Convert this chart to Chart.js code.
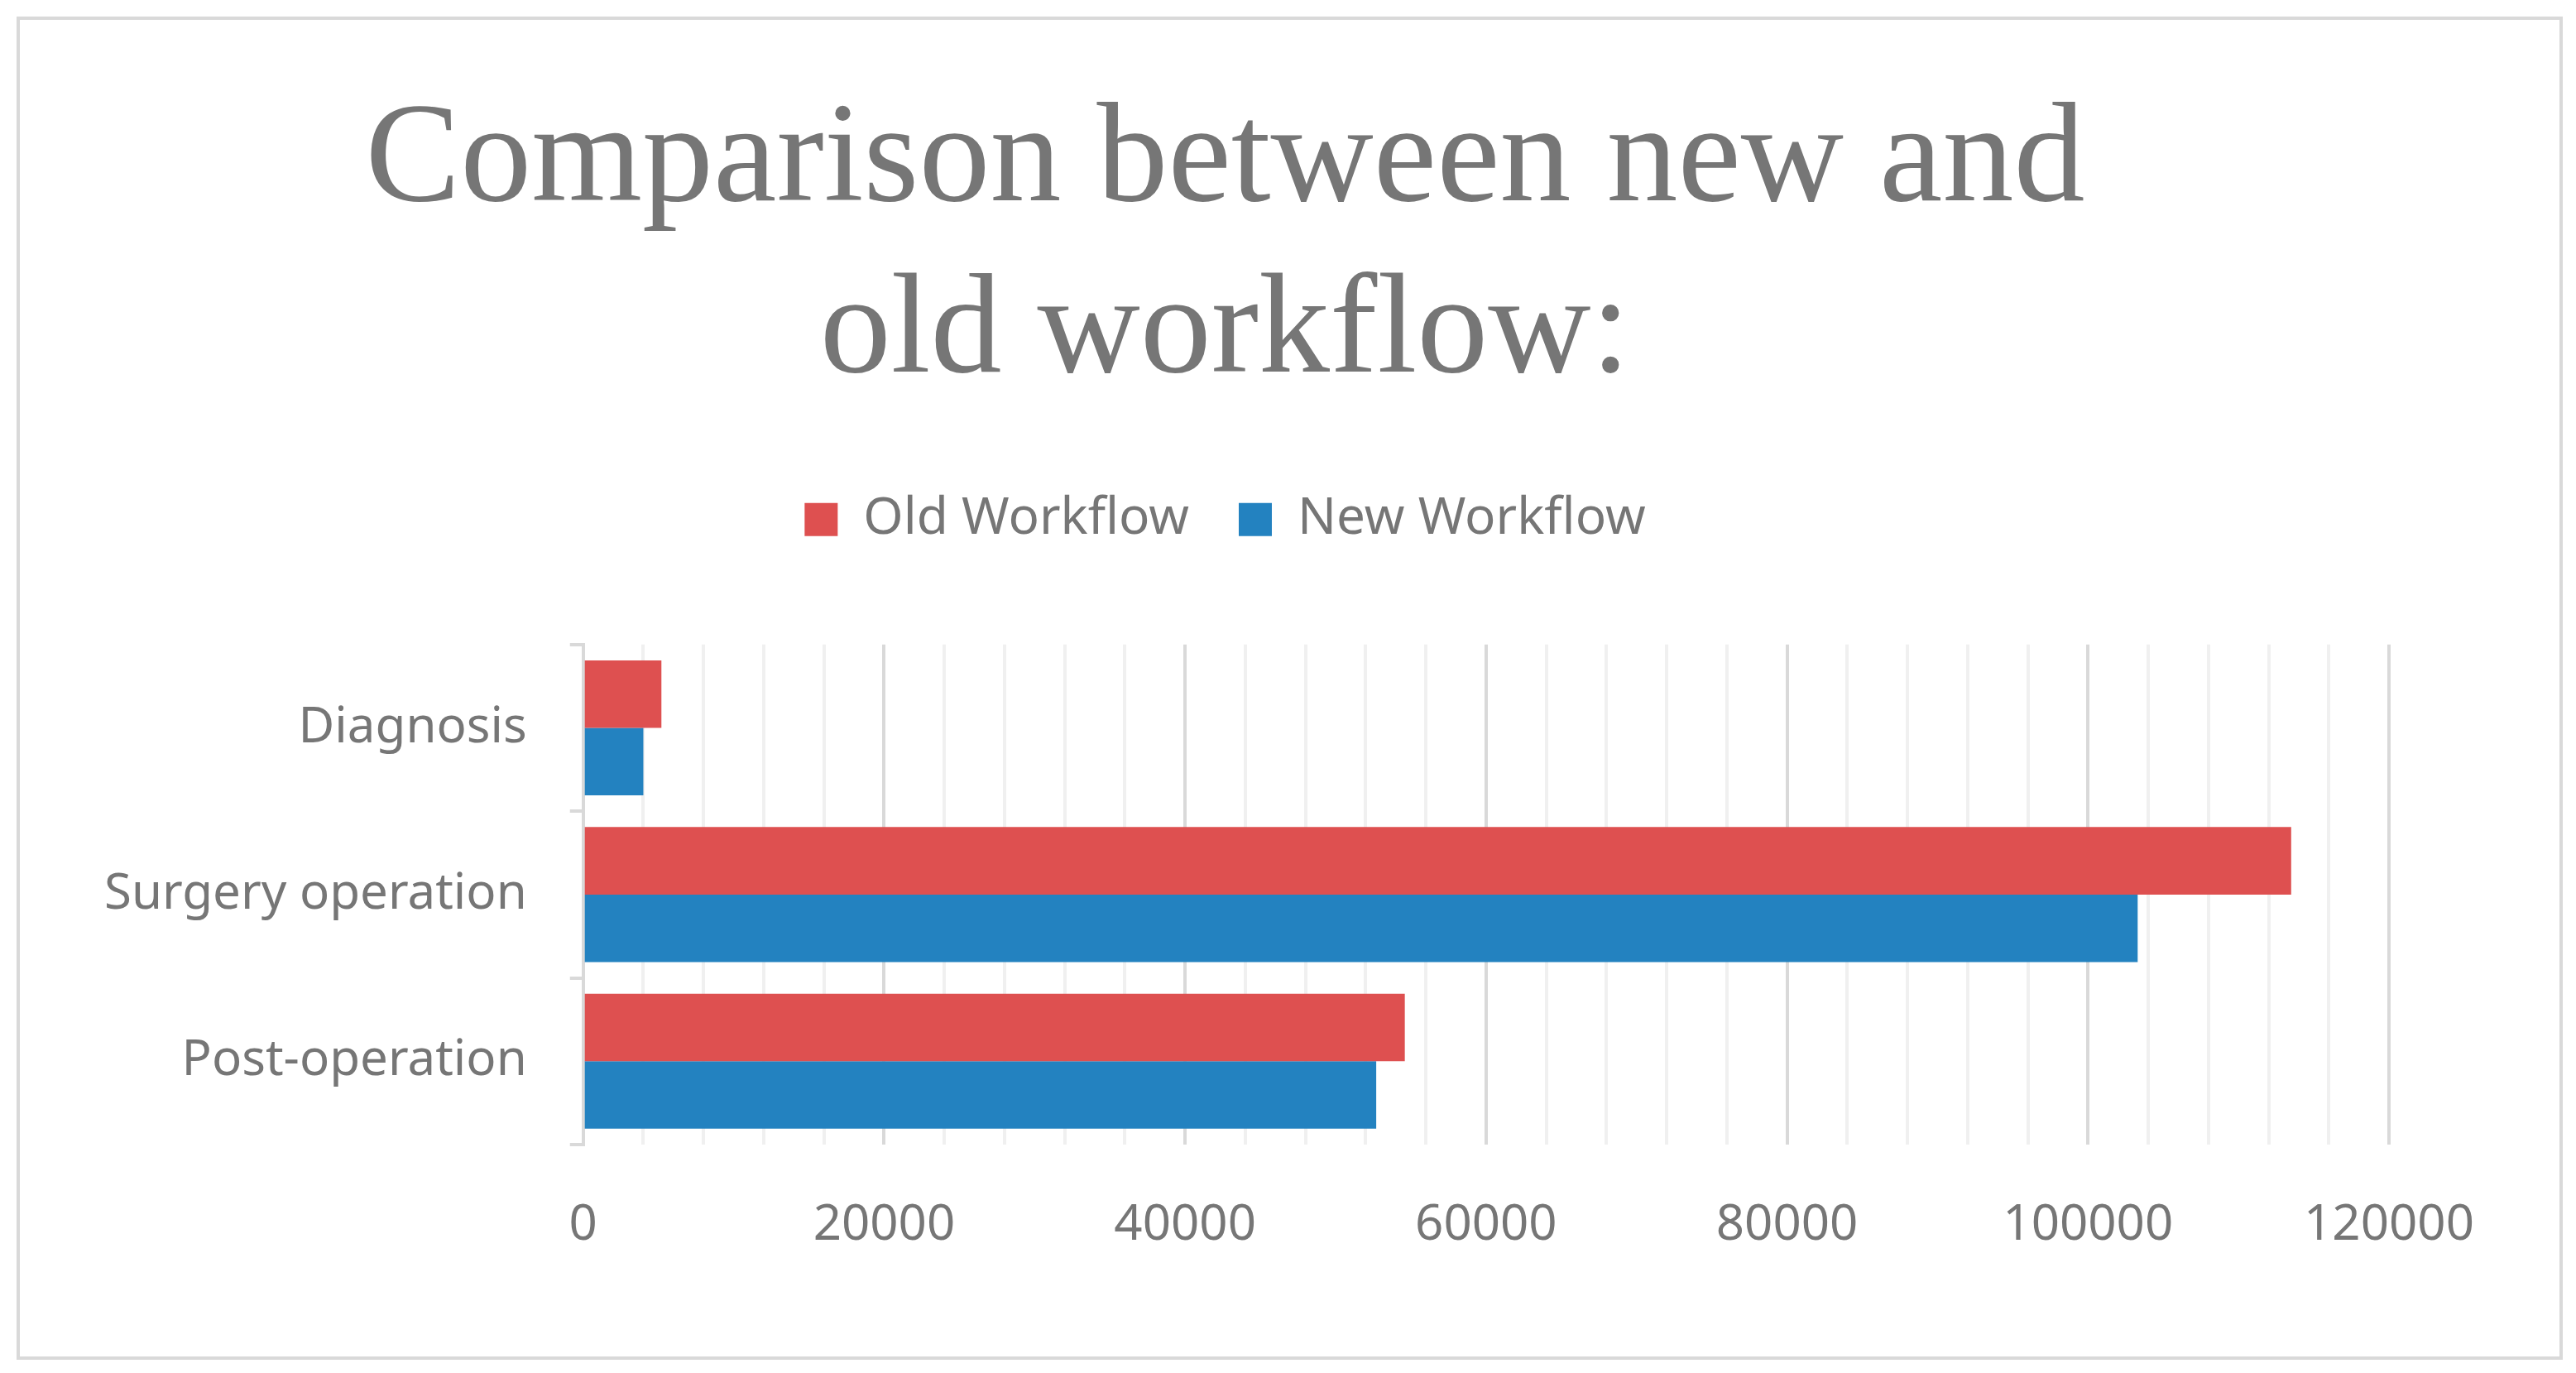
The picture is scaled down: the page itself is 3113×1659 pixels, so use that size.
<!DOCTYPE html>
<html>
<head>
<script src="https://cdn.jsdelivr.net/npm/chart.js@4"></script>
<style>
  html, body { margin: 0; padding: 0; background: #fff; }
  #wrap { position: absolute; left: 20px; top: 20px; width: 3069px; height: 1615px; border: 4px solid #d9d9d9; }
</style>
</head>
<body>
<div id="wrap"><canvas id="firstCanvas" width="3069" height="1615"></canvas></div>
<script>
const categories = ['Diagnosis', 'Surgery operation', 'Post-operation'];
const oldWorkflow = [5200, 113500, 54600];
const newWorkflow = [4000, 103300, 52700];
const titleLines = ['Comparison between new and', 'old workflow:'];

const canvas = document.getElementById('firstCanvas');

// extra room between legend and plot
const legendGap = {
  id: 'legendGap',
  beforeInit(chart) {
    const fit = chart.legend.fit;
    chart.legend.fit = function () {
      fit.bind(chart.legend)();
      this.height += 110;
    };
  }
};

new Chart(canvas, {
  type: 'bar',
  data: {
    labels: categories,
    datasets: [
      { label: 'Old Workflow', data: oldWorkflow, backgroundColor: '#de5050' },
      { label: 'New Workflow', data: newWorkflow, backgroundColor: '#2382c0' }
    ]
  },
  options: {
    indexAxis: 'y',
    responsive: false,
    animation: false,
    categoryPercentage: 0.81,
    barPercentage: 1,
    layout: { padding: { left: 50, right: 206, top: 70, bottom: 60 } },
    plugins: {
      title: {
        display: true,
        text: titleLines,
        color: '#767676',
        font: { family: 'Liberation Serif', size: 172, weight: 'normal' },
        lineHeight: 1.05,
        padding: { top: 0, bottom: 30 }
      },
      legend: {
        labels: {
          color: '#767676',
          font: { family: 'Noto Sans', size: 62 },
          boxWidth: 40,
          boxHeight: 40,
          padding: 60
        },
        padding: 0
      },
      tooltip: { enabled: false }
    },
    scales: {
      x: {
        min: 0,
        max: 120000,
        ticks: {
          stepSize: 4000,
          color: '#767676',
          font: { family: 'Noto Sans', size: 60 },
          padding: 62,
          maxRotation: 0,
          autoSkip: false,
          callback: v => (v % 20000 === 0 ? v : '')
        },
        grid: {
          color: ctx => (ctx.tick && ctx.tick.value % 20000 === 0 ? '#d9d9d9' : '#f0f0f0'),
          lineWidth: 4,
          tickLength: 0
        },
        border: { display: false }
      },
      y: {
        ticks: {
          color: '#767676',
          font: { family: 'Noto Sans', size: 60 },
          padding: 52
        },
        grid: { drawOnChartArea: false, offset: true, color: '#d9d9d9', lineWidth: 4, tickLength: 16 },
        border: { color: '#d9d9d9', width: 4 }
      }
    }
  },
  plugins: [legendGap]
});
</script>
</body>
</html>
